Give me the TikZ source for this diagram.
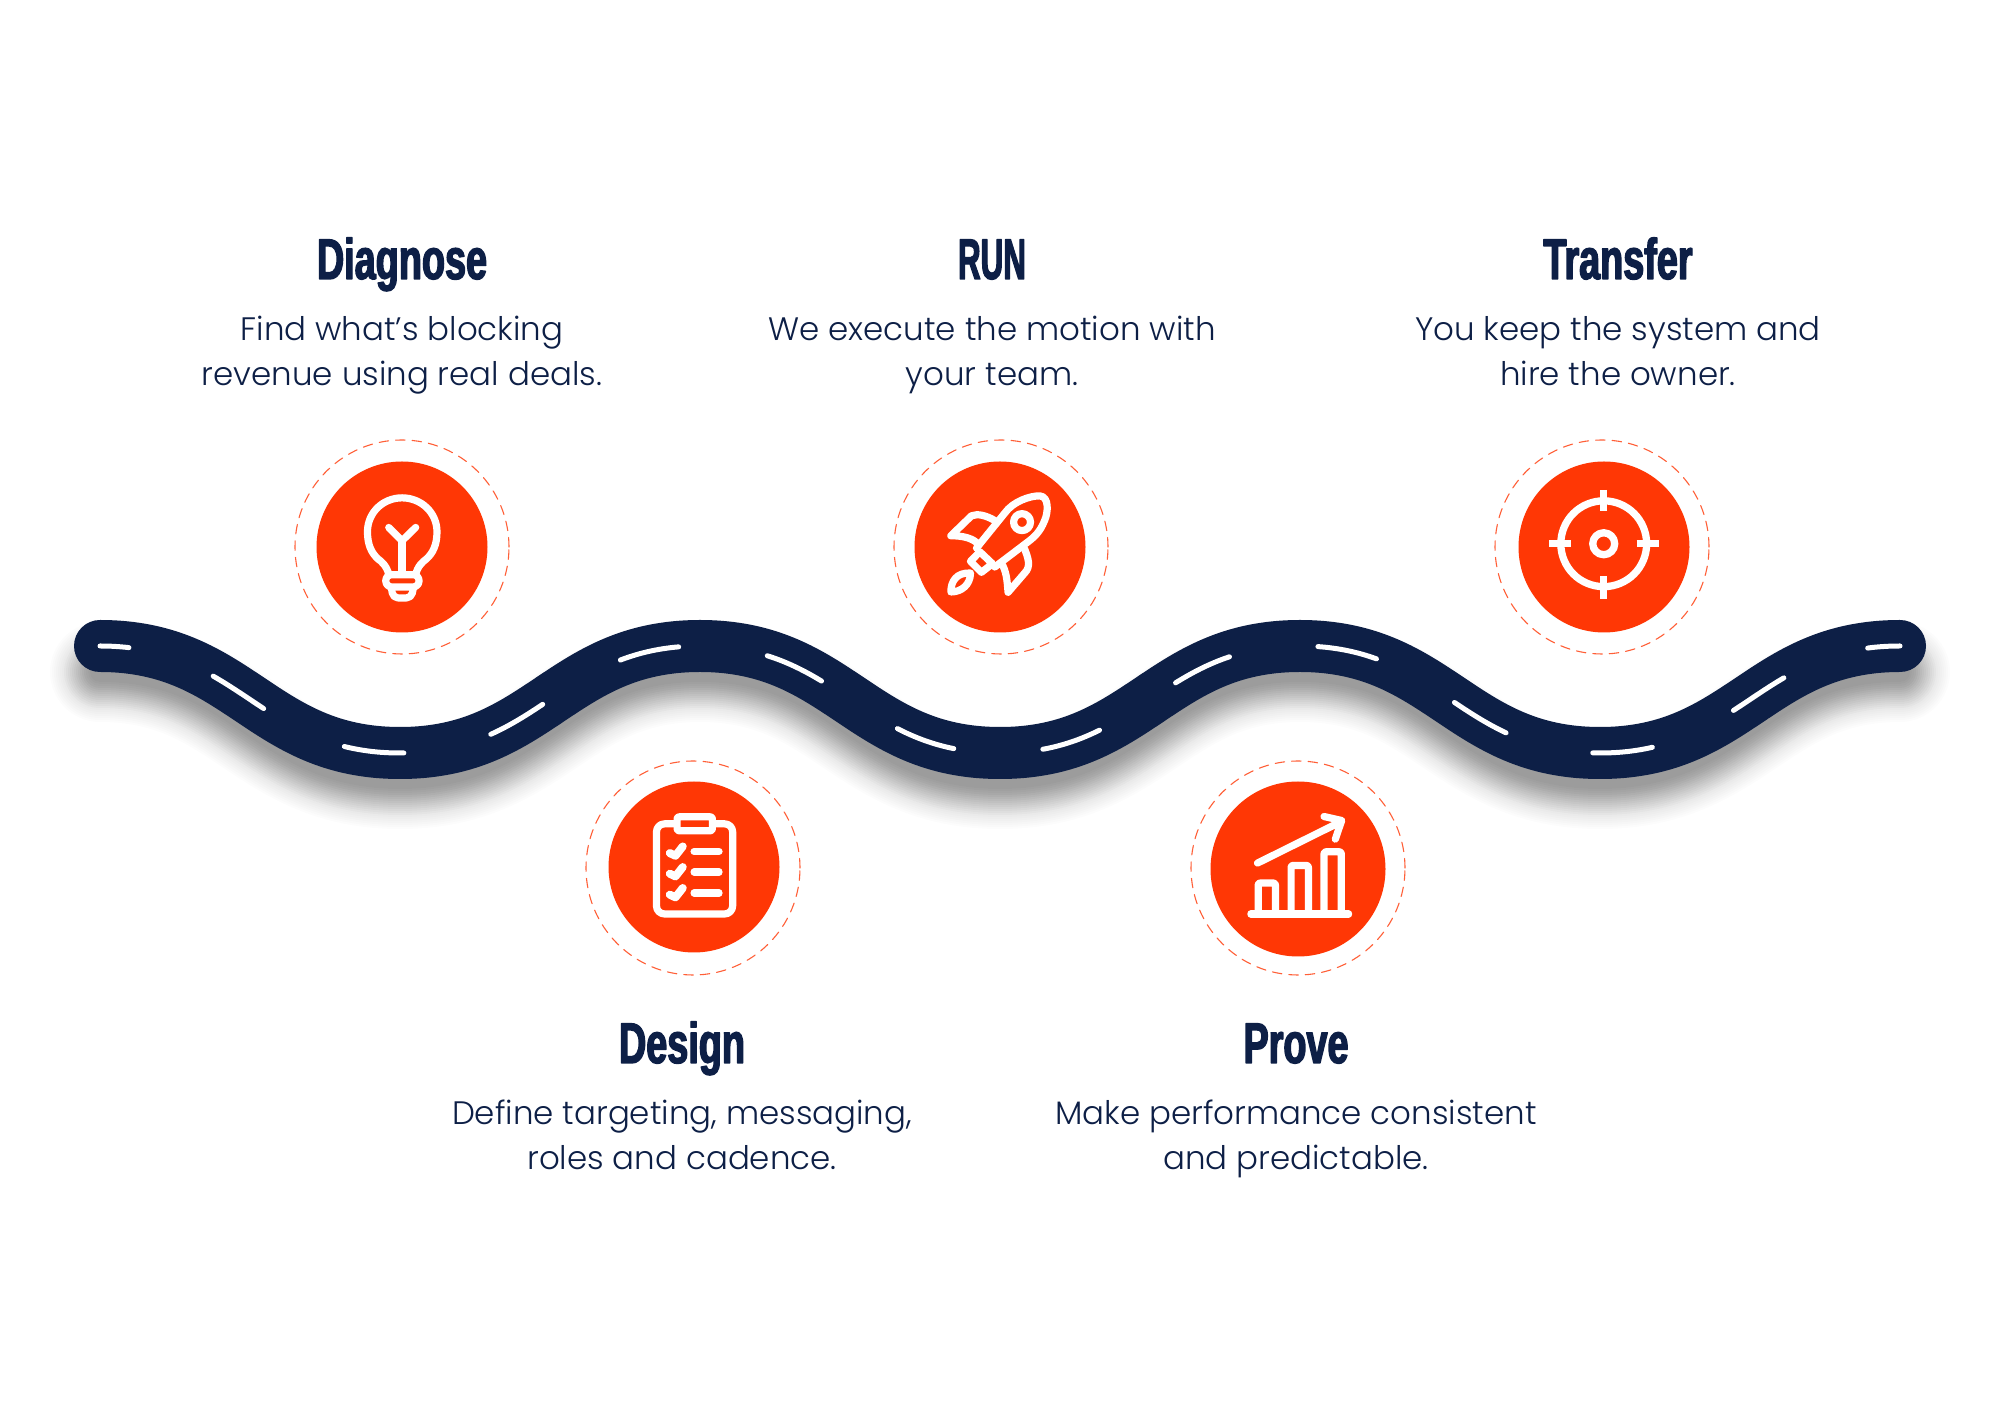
\documentclass[tikz,border=0pt]{standalone}
\usepackage{fontspec}
\usepackage{tikz}
\usetikzlibrary{positioning}
\newfontfamily\headfont[FakeStretch=.66,FakeBold=2.4]{Liberation Sans Bold}
\newfontfamily\blurbfont{Poppins Light}
\definecolor{roadink}{HTML}{0D1F46}
\definecolor{stepfire}{HTML}{FF3705}
\newcommand{\roadline}{(1,7.68) .. controls (2.4,7.68) and (2.6,6.61) .. (4,6.61)
  .. controls (5.4,6.61) and (5.6,7.68) .. (7,7.68)
  .. controls (8.4,7.68) and (8.6,6.61) .. (10,6.61)
  .. controls (11.4,6.61) and (11.6,7.68) .. (13,7.68)
  .. controls (14.4,7.68) and (14.6,6.61) .. (16,6.61)
  .. controls (17.4,6.61) and (17.6,7.68) .. (19,7.68)}

\begin{document}
\begin{tikzpicture}[line cap=round,line join=round,
  disc/.style={circle,inner sep=0pt,minimum size=1.71cm,fill=stepfire},
  ring/.style={circle,inner sep=0pt,minimum size=2.14cm,draw=stepfire!80,line width=.011cm,dash pattern=on .095cm off .07cm},
  head/.style={anchor=base,inner sep=0pt,text=roadink,text height=.41cm,text depth=.06cm,font=\headfont\fontsize{16.3}{18}\selectfont},
  blurb/.style={anchor=north,inner sep=0pt,align=center,text=roadink,text height=7pt,font=\blurbfont\fontsize{9.24}{12.9}\selectfont},
  icon/.style={draw=white,line width=.072cm},
  iconbox/.style={x=.003333cm,y=-.003333cm}]
\path[use as bounding box] (0,0) rectangle (20,14.14);
\fill[white] (0,0) rectangle (20,14.14);

% road shadow, stacked strokes
\begin{scope}[yshift=-.26cm]
\foreach \w in {.2,.24,...,1.04} {
  \draw[black,opacity=.011,line width=\w cm] \roadline;
}
\foreach \w in {.2,.24,...,.76} {
  \draw[black,opacity=.012,line width=\w cm] \roadline;
}
\end{scope}

% road and centre marks
\draw[roadink,line width=.52cm] \roadline;
\draw[white,line width=.05cm,dash pattern=on .6cm off .896cm,dash phase=.31cm] \roadline;

% discs and dashed rings
\node[ring] (diagnosering) at (4.02,8.67) {};
\node[disc] (diagnose) at (4.02,8.67) {};
\node[ring] (runring) at (10.01,8.67) {};
\node[disc] (run) at (10,8.67) {};
\node[ring] (transferring) at (16.02,8.67) {};
\node[disc] (transfer) at (16.04,8.67) {};
\node[ring] (designring) at (6.93,5.46) {};
\node[disc] (design) at (6.94,5.47) {};
\node[ring] (provering) at (12.98,5.46) {};
\node[disc,minimum size=1.75cm] (prove) at (12.98,5.45) {};

% bulb
\begin{scope}[shift={(2.8,9.84)},iconbox]
\draw[icon] (327,435) .. controls (322,410) and (305,395) .. (295,388)
  .. controls (275,370) and (263,345) .. (263,306)
  .. controls (263,248) and (310,204) .. (367,204)
  .. controls (424,204) and (472,248) .. (472,306)
  .. controls (472,345) and (460,370) .. (440,388)
  .. controls (430,395) and (413,410) .. (408,435);
\draw[icon] (327,293) -- (367,333) -- (408,293);
\draw[icon] (367,333) -- (367,432);
\draw[icon,rounded corners=.06cm] (318,435) rectangle (418,472);
\draw[icon,rounded corners=.05cm] (335,475) -- (340,505) -- (395,505) -- (401,475);
\end{scope}

% rocket
\begin{scope}[shift={(8.8,9.84)},iconbox]
\draw[icon] (290,355) -- (375,250) .. controls (400,215) and (450,198) .. (480,198)
  .. controls (510,200) and (505,250) .. (495,272)
  .. controls (480,310) and (460,325) .. (440,340) -- (345,412);
\draw[icon] (272,395) -- (300,366) -- (338,402) -- (305,428) -- cycle;
\draw[icon] (345,272) .. controls (320,258) and (295,250) .. (275,258) -- (213,318)
  .. controls (250,318) and (280,325) .. (297,345);
\draw[icon] (435,358) .. controls (445,385) and (455,410) .. (435,430) -- (385,488)
  .. controls (382,450) and (380,425) .. (365,400);
\draw[icon] (427,277) circle (25.5);
\draw[icon] (213,487) .. controls (213,455) and (230,428) .. (272,430)
  .. controls (272,465) and (245,487) .. cycle;
\end{scope}

% target
\begin{scope}[shift={(14.8,9.84)},iconbox]
\draw[icon,line width=.073cm] (372,342) circle (129);
\draw[icon,line width=.073cm] (372,342) circle (33);
\draw[icon,line width=.073cm,line cap=butt] (372,180) -- (372,244);
\draw[icon,line width=.073cm,line cap=butt] (372,440) -- (372,507);
\draw[icon,line width=.073cm,line cap=butt] (208,342) -- (274,342);
\draw[icon,line width=.073cm,line cap=butt] (471,342) -- (537,342);
\end{scope}

% clipboard
\begin{scope}[shift={(5.75,6.64)},iconbox]
\draw[icon,rounded corners=.08cm] (245,222) rectangle (474,493);
\draw[icon,rounded corners=.02cm,fill=stepfire] (307,201) rectangle (413,243);
\foreach \y in {0,62,125} {
  \draw[icon,line width=.08cm] (285,310+\y) -- (302,318+\y) -- (324,290+\y);
  \draw[icon] (358,305+\y) -- (433,305+\y);
}
\end{scope}

% chart
\begin{scope}[shift={(11.8,6.64)},iconbox]
\draw[icon] (213,493) -- (507,493);
\draw[icon,rounded corners=.02cm] (235,493) -- (235,400) -- (287,400) -- (287,493);
\draw[icon,rounded corners=.02cm] (334,493) -- (334,347) -- (386,347) -- (386,493);
\draw[icon,rounded corners=.02cm] (433,493) -- (433,306) -- (485,306) -- (485,493);
\draw[icon] (233,340) -- (485,215);
\draw[icon] (433,200) -- (486,212) -- (467,268);
\end{scope}

% top labels
\node[head] (diagnosehead) at (4.02,11.35) {Diagnose};
\node[blurb,below=.744cm of diagnosehead] (diagnosetext) {Find what’s blocking\\revenue using real deals.};
\node[head] (runhead) at (9.92,11.35) {\scalebox{.83}[1]{RUN}};
\node[blurb,below=.744cm of runhead] (runtext) {We execute the motion with\\your team.};
\node[head] (transferhead) at (16.18,11.35) {Transfer};
\node[blurb,below=.744cm of transferhead] (transfertext) {You keep the system and\\hire the owner.};

% bottom labels
\node[head] (designhead) at (6.82,3.51) {Design};
\node[blurb,below=.744cm of designhead] (designtext) {Define targeting, messaging,\\roles and cadence.};
\node[head] (provehead) at (12.96,3.51) {Prove};
\node[blurb,below=.744cm of provehead] (provetext) {Make performance consistent\\and predictable.};
\end{tikzpicture}
\end{document}
